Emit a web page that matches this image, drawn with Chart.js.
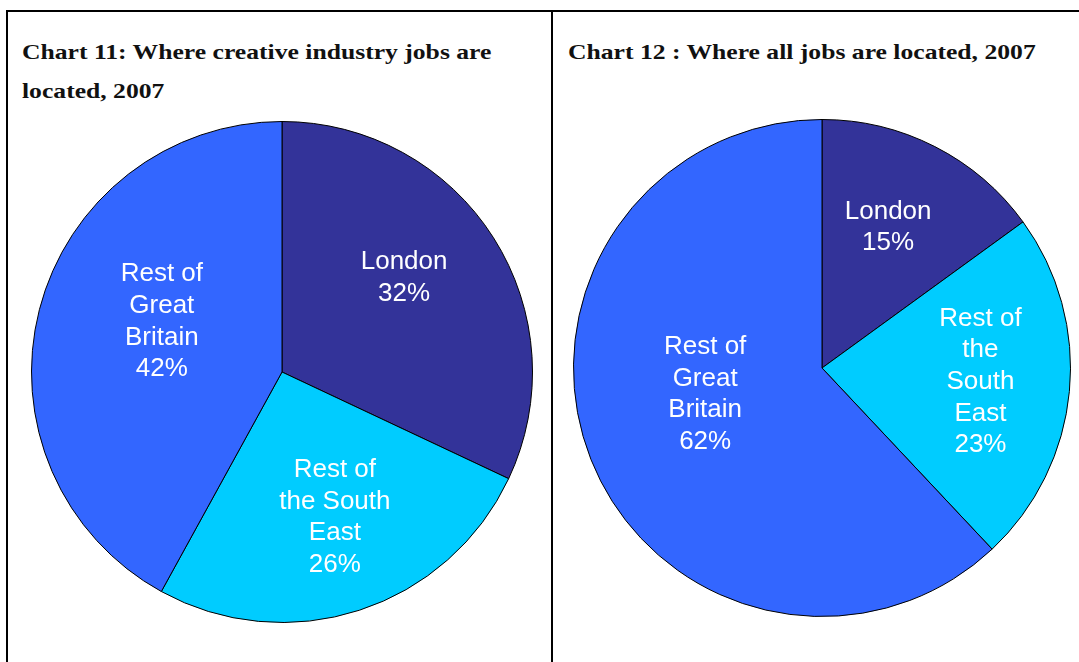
<!DOCTYPE html>
<html>
<head>
<meta charset="utf-8">
<title>Creative industry jobs by region, 2007</title>
<script src="https://cdn.jsdelivr.net/npm/chart.js@4.4.1/dist/chart.umd.min.js"></script>
<style>
  html, body { margin: 0; padding: 0; background: #fff; }
  body { width: 1079px; height: 662px; position: relative; overflow: hidden; }
  .panel {
    position: absolute; top: 10px; height: 700px;
    border-top: 2px solid #000; border-left: 2px solid #000;
    box-sizing: border-box;
  }
  #panelLeft { left: 6px; width: 547px; }
  #panelRight { left: 551px; width: 600px; }
  .title {
    position: absolute;
    font-family: "Liberation Serif", "Times New Roman", serif;
    font-weight: bold; font-size: 22px; line-height: 39px;
    color: #111; white-space: nowrap;
    transform: scaleX(1.165); transform-origin: 0 0;
  }
  canvas { position: absolute; }
</style>
</head>
<body>
<div class="panel" id="panelLeft"></div>
<div class="panel" id="panelRight"></div>
<div class="title" style="left:22px; top:32px;">Chart 11: Where creative industry jobs are<br>located, 2007</div>
<div class="title" style="left:568px; top:32px;">Chart 12 : Where all jobs are located, 2007</div>
<canvas id="chart11" width="502" height="502" style="left:31px; top:121px;"></canvas>
<canvas id="chart12" width="498" height="498" style="left:573px; top:119px;"></canvas>
<script>
// regions, in clockwise order from 12 o'clock
const regions = ['London', 'Rest of the South East', 'Rest of Great Britain'];
const regionColours = ['#333399', '#00CCFF', '#3366FF'];

// share of jobs (%), 2007
const creativeJobs = [32, 26, 42];
const allJobs = [15, 23, 62];

// how each slice label wraps
const creativeLabelLines = [['London'], ['Rest of', 'the South', 'East'], ['Rest of', 'Great', 'Britain']];
const allLabelLines = [['London'], ['Rest of', 'the', 'South', 'East'], ['Rest of', 'Great', 'Britain']];

// writes "name / value%" inside each slice
const sliceLabels = {
  id: 'sliceLabels',
  afterDatasetsDraw(chart, args, opts) {
    const ctx = chart.ctx;
    const meta = chart.getDatasetMeta(0);
    const values = chart.data.datasets[0].data;
    ctx.save();
    ctx.fillStyle = '#fff';
    ctx.font = '26px "Liberation Sans", Arial, sans-serif';
    ctx.textAlign = 'center';
    ctx.textBaseline = 'middle';
    meta.data.forEach((arc, i) => {
      const p = arc.getProps(['x', 'y', 'startAngle', 'endAngle', 'outerRadius'], true);
      const tweak = opts.place[i];
      const mid = (p.startAngle + p.endAngle) / 2 + tweak[0] * Math.PI / 180;
      const r = p.outerRadius * tweak[1];
      const cx = p.x + Math.cos(mid) * r;
      const cy = p.y + Math.sin(mid) * r;
      const lines = opts.lines[i].concat([values[i] + '%']);
      const lh = 31.7;
      const top = cy - (lines.length - 1) * lh / 2;
      lines.forEach((t, k) => ctx.fillText(t, cx, top + k * lh));
    });
    ctx.restore();
  }
};

function pie(canvasId, values, lines, place) {
  return new Chart(document.getElementById(canvasId), {
    type: 'pie',
    data: {
      labels: regions,
      datasets: [{
        data: values,
        backgroundColor: regionColours,
        borderColor: '#000',
        borderWidth: 1,
        hoverOffset: 0
      }]
    },
    options: {
      responsive: false,
      animation: false,
      events: [],
      devicePixelRatio: 1,
      layout: { padding: 0 },
      plugins: {
        legend: { display: false },
        tooltip: { enabled: false },
        sliceLabels: { lines: lines, place: place }
      }
    },
    plugins: [sliceLabels]
  });
}

// [angle nudge in degrees, distance from centre as a fraction of radius]
pie('chart11', creativeJobs, creativeLabelLines, [[-5.3, 0.616], [-2.0, 0.617], [8.3, 0.52]]);
pie('chart12', allJobs, allLabelLines, [[-1.8, 0.625], [-0.4, 0.64], [8.9, 0.482]]);
</script>
</body>
</html>
